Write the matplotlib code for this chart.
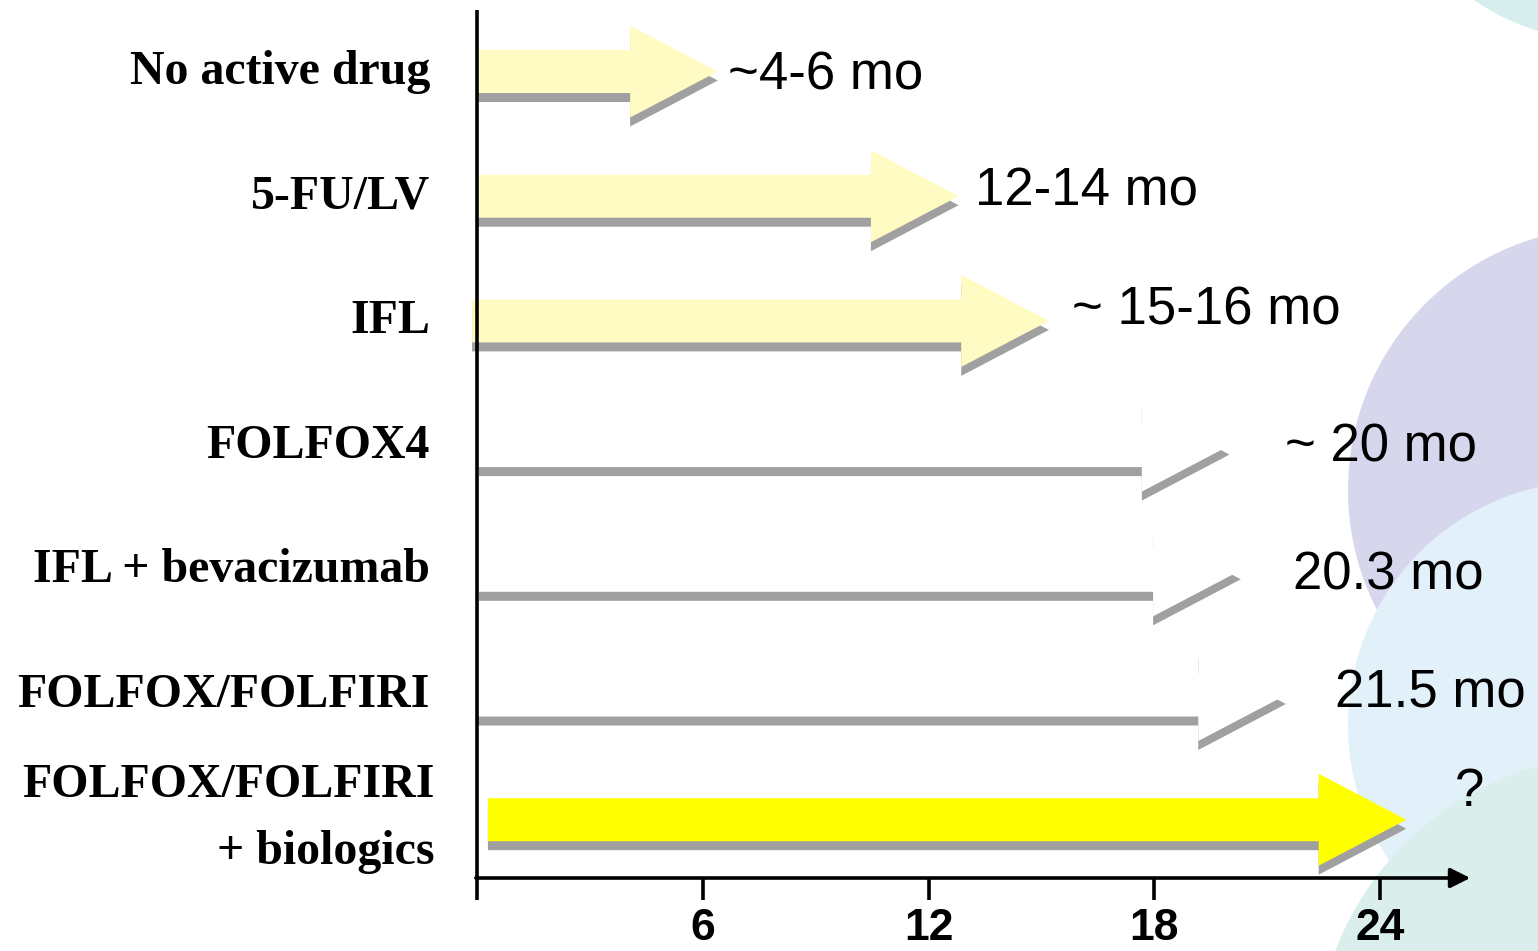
import matplotlib
matplotlib.use("Agg")
import matplotlib.pyplot as plt
from matplotlib.patches import Polygon, Circle
from matplotlib import font_manager

# regimens, top to bottom
regimens = ["No active drug", "5-FU/LV", "IFL", "FOLFOX4", "IFL + bevacizumab",
            "FOLFOX/FOLFIRI", "FOLFOX/FOLFIRI\n+ biologics"]
# median overall survival in months (arrow tip) and where each arrow starts
survival = [6.4, 12.8, 15.2, 20.0, 20.3, 21.5, 24.7]
start = [0.0, 0.0, -0.13, 0.05, 0.05, 0.0, 0.29]
survival_labels = ["~4-6 mo", "12-14 mo", "~ 15-16 mo", "~ 20 mo", "20.3 mo", "21.5 mo", "?"]
arrow_colors = ["#FFFBC2", "#FFFBC2", "#FFFBC2", "white", "white", "white", "#FFFF00"]
ticks = [6, 12, 18, 24]

# layout (x in months, y in pixel rows)
label_x = [6.67, 13.24, 15.81, 21.47, 21.69, 22.80, 26.0]
label_dy = [4, -5, -10, 2, 5, -2, -28]
row0, row_step = 71.5, 124.7
body_half, head_half, head_len = 21.5, 46, 2.33
shadow_dy = 9

names = {f.name for f in font_manager.fontManager.ttflist}
narrow = "Liberation Sans Narrow" if "Liberation Sans Narrow" in names else "Liberation Sans"

fig = plt.figure(figsize=(15.38, 9.51), dpi=100)

# decorative circles in pixel coordinates
bg = fig.add_axes([0, 0, 1, 1])
bg.set_xlim(0, 1538)
bg.set_ylim(951, 0)
bg.axis("off")
for (cx, cy, r, c) in [(1610, -200, 242, "#d8eeee"),
                       (1611, 490, 263, "#d6d6ec"),
                       (1592, 725, 244, "#e2f0f9"),
                       (1620, 1060, 305, "#daeeec")]:
    bg.add_patch(Circle((cx, cy), r, color=c, lw=0))

ax = fig.add_axes([0, 0, 1, 1])
ax.patch.set_alpha(0)
ax.set_xlim(-477 / 37.625, (1538 - 477) / 37.625)
ax.set_ylim(951, 0)
ax.axis("off")


def arrow_pts(x0, xt, y, dy=0):
    xb = xt - head_len
    return [(x0, y - body_half + dy), (xb, y - body_half + dy), (xb, y - head_half + dy),
            (xt, y + dy), (xb, y + head_half + dy), (xb, y + body_half + dy),
            (x0, y + body_half + dy)]


for i, (x0, xt, col) in enumerate(zip(start, survival, arrow_colors)):
    y = row0 + row_step * i
    ax.add_patch(Polygon(arrow_pts(x0, xt, y, shadow_dy), closed=True,
                         facecolor="#a0a0a0", edgecolor="none", zorder=2))
    ax.add_patch(Polygon(arrow_pts(x0, xt, y), closed=True,
                         facecolor=col, edgecolor="none", zorder=3))
    ax.text(label_x[i], y + label_dy[i], survival_labels[i], ha="left", va="center",
            fontsize=38, family="Liberation Sans", color="black", zorder=5)
    if "\n" in regimens[i]:
        ax.text(-1.12, y - 1, regimens[i], ha="right", va="center", ma="right",
                linespacing=1.68, fontsize=34.5, fontweight="bold",
                family="Liberation Serif", zorder=5)
    else:
        ax.text(-1.25, y, regimens[i], ha="right", va="center", fontsize=34.5,
                fontweight="bold", family="Liberation Serif", zorder=5)

# axes drawn by hand
axis_y = 878
ax.plot([0, 0], [10, 900], color="black", lw=2.6, solid_capstyle="butt", zorder=6)
ax.annotate("", xy=(26.4, axis_y), xytext=(-0.03, axis_y),
            arrowprops=dict(arrowstyle="-|>", color="black", lw=2.6,
                            mutation_scale=30, shrinkA=0, shrinkB=0), zorder=6)
for t in ticks:
    ax.plot([t, t], [axis_y, 900], color="black", lw=2.6, solid_capstyle="butt", zorder=6)
    ax.text(t, 928, str(t), ha="center", va="center", fontsize=32,
            fontweight="bold", family=narrow, zorder=6)

fig.savefig("out.png", dpi=100)
